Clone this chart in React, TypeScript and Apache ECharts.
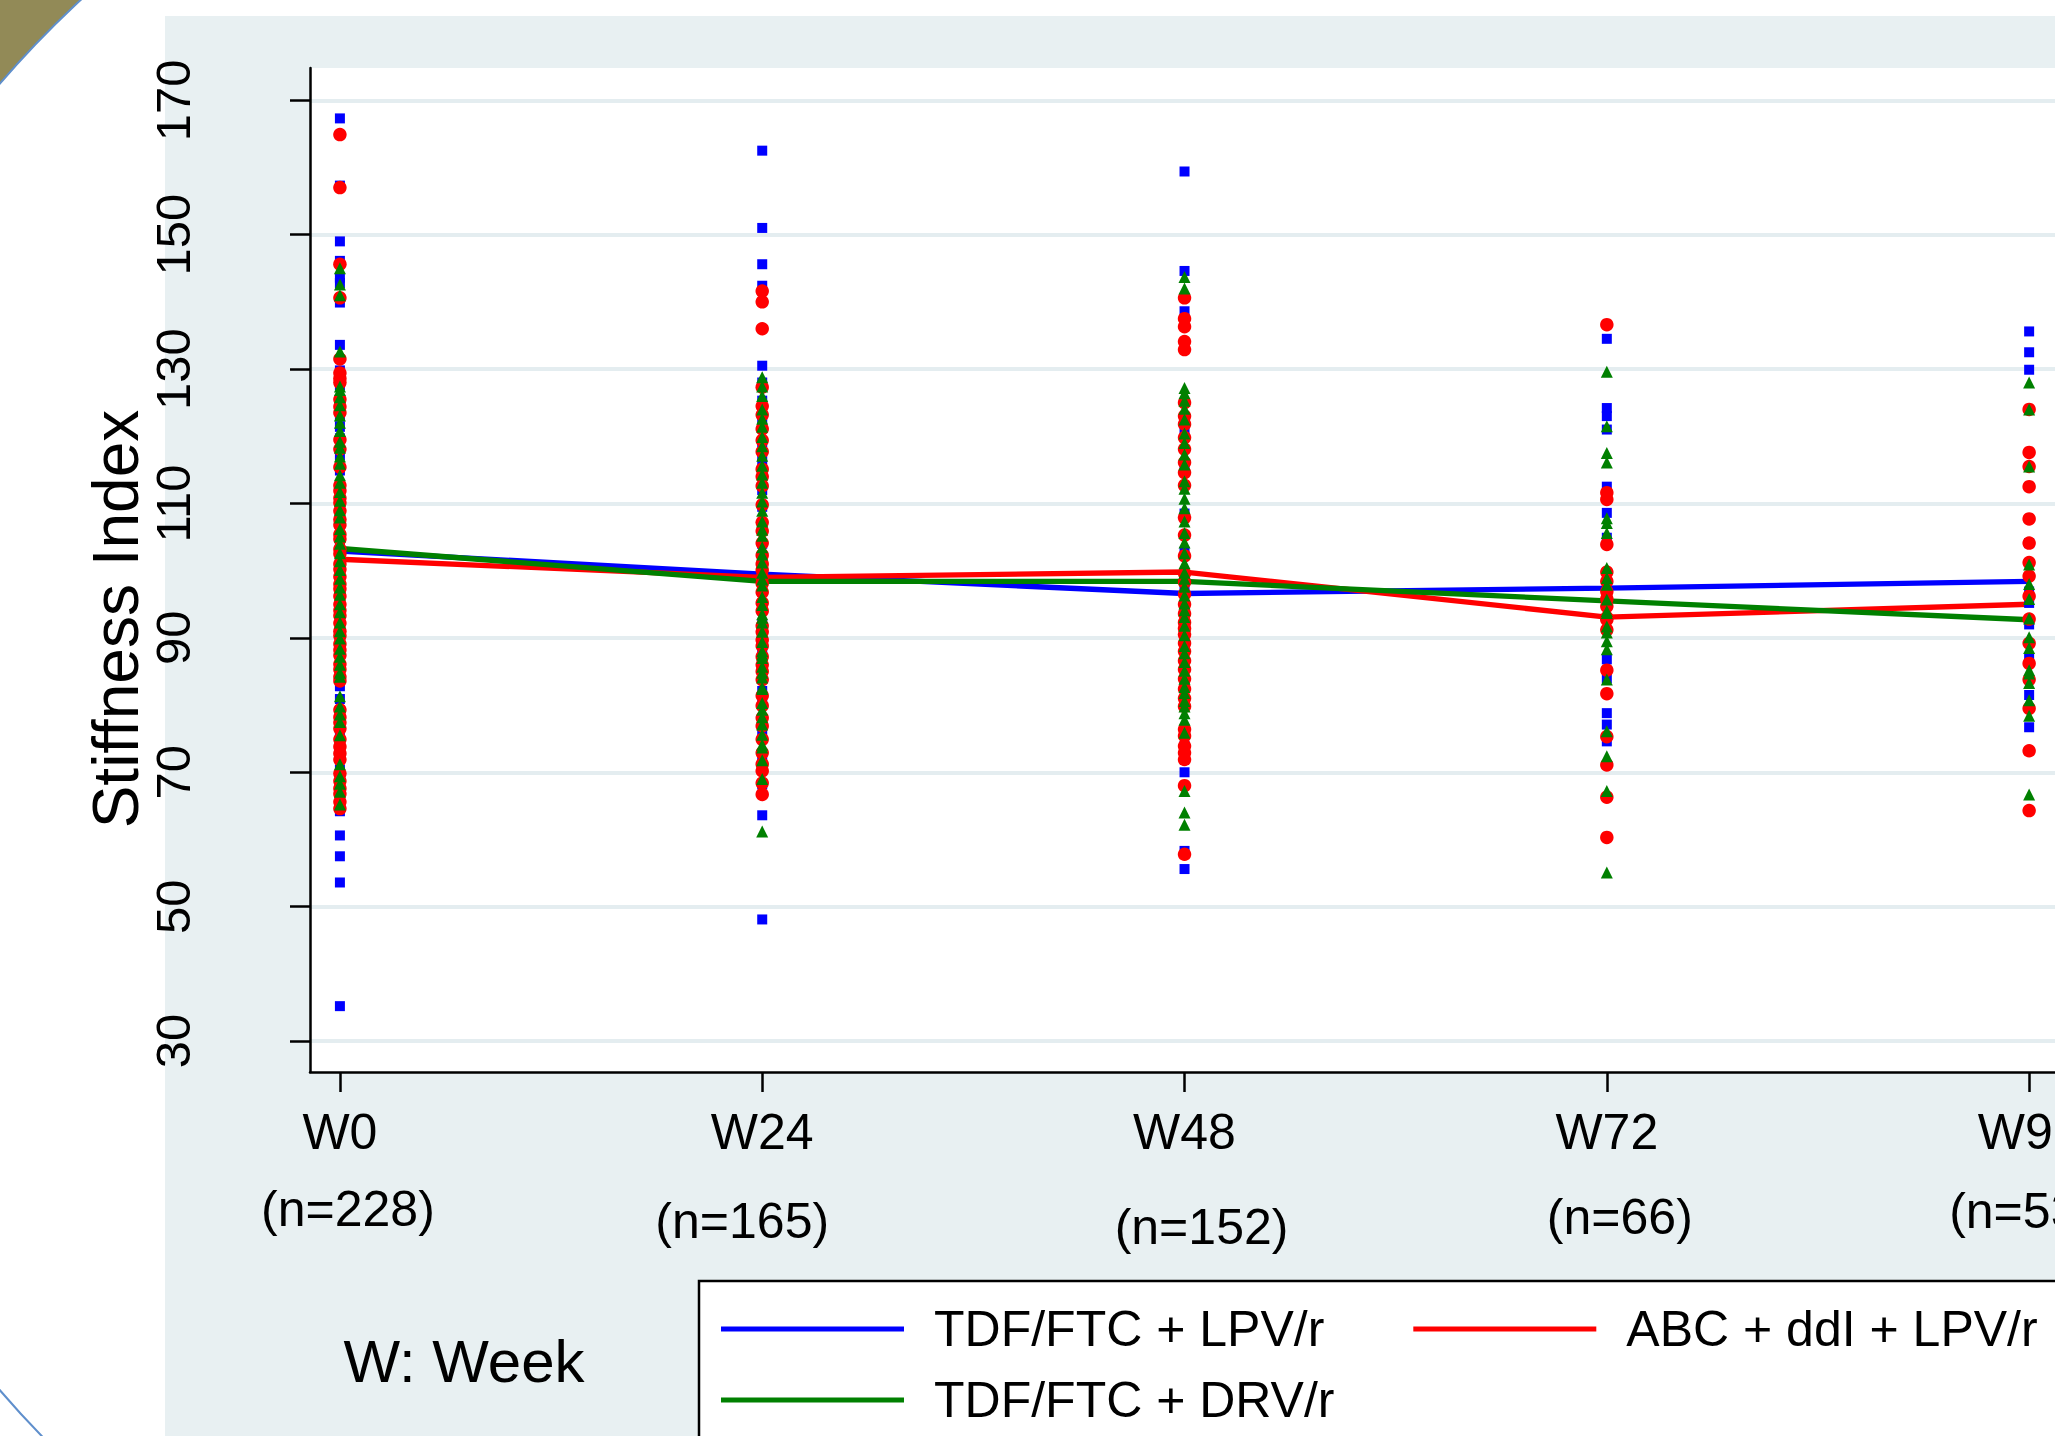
import React, { useEffect, useRef } from "react";
import * as echarts from "echarts";

// ---------- data ----------
const weeks = [0, 24, 48, 72, 96];
const weekLabels = ["W0", "W24", "W48", "W72", "W96"];
const nLabels = ["(n=228)", "(n=165)", "(n=152)", "(n=66)", "(n=53)"];
const yTicks = [30, 50, 70, 90, 110, 130, 150, 170];
const seriesNames = ["TDF/FTC + LPV/r", "ABC + ddI + LPV/r", "TDF/FTC + DRV/r"];

// group means (lines)
const meanTdfLpv = [102.9, 99.5, 96.6, 97.4, 98.4];
const meanAbcLpv = [101.7, 99.0, 99.8, 93.1, 95.0];
const meanTdfDrv = [103.3, 98.4, 98.4, 95.5, 92.7];

// individual values, TDF/FTC + LPV/r (blue)
const blueW0 = [167.3, 157.3, 149.0, 146.1, 143.6, 142.8, 139.9, 133.6, 129.8, 127.6, 125.2, 122.9, 121.4, 119.7, 117.2, 114.9, 112.6, 110.8, 108.3, 106.9, 104.2, 102.7, 100.3, 98.6, 96.1, 94.4, 92.8, 90.2, 88.9, 86.5, 84.1, 82.8, 80.9, 78.2, 75.6, 73.1, 70.4, 67.8, 64.2, 60.6, 57.5, 53.6, 35.2];
const blueW24 = [162.5, 151.0, 145.6, 142.4, 130.5, 128.0, 125.3, 122.5, 119.1, 116.4, 114.2, 112.0, 109.5, 106.3, 104.0, 101.6, 99.2, 96.9, 94.6, 92.0, 90.4, 88.3, 85.4, 82.1, 80.8, 75.9, 72.4, 68.2, 63.6, 48.1];
const blueW48 = [159.4, 144.6, 138.6, 121.0, 115.0, 108.5, 102.8, 97.5, 94.0, 89.5, 86.0, 83.0, 80.8, 73.9, 70.0, 58.3, 55.6];
const blueW72 = [134.5, 124.2, 123.0, 121.0, 112.5, 108.6, 104.9, 97.0, 86.8, 84.0, 78.8, 77.1, 74.6];
const blueW96 = [135.6, 132.5, 129.9, 104.1, 96.9, 95.2, 92.0, 86.9, 81.5, 76.7];

// individual values, ABC + ddI + LPV/r (red)
const redW0 = [164.9, 157.0, 145.6, 140.6, 131.5, 129.4, 128.6, 128.0, 125.5, 124.4, 123.5, 119.5, 118.1, 115.4, 112.7, 111.9, 110.8, 110.1, 108.9, 107.6, 106.8, 105.4, 104.7, 103.2, 102.5, 101.0, 100.2, 99.1, 98.0, 97.3, 96.2, 95.0, 94.1, 93.3, 92.2, 91.0, 90.3, 89.1, 88.2, 87.4, 86.1, 85.3, 84.2, 83.6, 79.3, 78.2, 77.4, 76.5, 74.9, 73.8, 72.8, 71.9, 69.8, 68.7, 67.6, 66.8, 65.6, 64.6];
const redW24 = [141.6, 140.0, 136.0, 127.3, 124.5, 123.2, 121.1, 119.4, 117.7, 115.1, 114.0, 112.6, 109.8, 107.2, 105.9, 104.1, 102.3, 101.0, 100.1, 99.0, 98.1, 96.8, 95.2, 94.0, 91.8, 90.9, 89.7, 88.8, 87.2, 86.0, 85.0, 83.8, 81.4, 79.9, 78.1, 76.9, 74.9, 72.9, 71.2, 70.2, 68.4, 66.7];
const redW48 = [140.6, 137.5, 136.3, 134.1, 132.9, 125.0, 123.0, 121.8, 119.8, 118.1, 116.1, 114.6, 112.7, 107.9, 105.3, 102.2, 99.6, 98.3, 96.5, 95.0, 93.6, 92.3, 91.4, 90.5, 89.2, 88.0, 86.6, 85.3, 83.9, 82.4, 81.0, 79.8, 76.4, 75.4, 73.9, 72.9, 71.9, 68.0, 57.8];
const redW72 = [136.6, 111.6, 110.6, 103.9, 99.8, 98.4, 96.9, 95.8, 94.7, 93.0, 92.7, 91.2, 85.2, 81.7, 75.3, 71.1, 66.3, 60.3];
const redW96 = [124.0, 117.6, 115.5, 112.5, 107.7, 104.1, 101.2, 99.2, 96.2, 92.8, 89.2, 86.2, 83.8, 79.5, 73.2, 64.3];

// individual values, TDF/FTC + DRV/r (green)
const greenW0 = [145.0, 142.6, 141.0, 132.6, 127.4, 126.9, 125.8, 124.6, 123.1, 122.0, 120.8, 119.2, 118.3, 117.0, 115.9, 114.2, 113.1, 111.7, 110.4, 109.0, 107.9, 106.2, 105.1, 104.0, 102.6, 101.4, 100.1, 98.8, 97.5, 96.4, 95.0, 93.8, 92.3, 91.0, 89.9, 88.4, 87.2, 86.0, 84.8, 84.2, 81.3, 79.8, 78.6, 77.5, 75.5, 71.2, 69.4, 68.3, 67.1, 65.2];
const greenW24 = [128.8, 127.4, 126.0, 124.0, 122.6, 121.4, 119.9, 118.5, 117.1, 115.6, 114.3, 113.1, 111.6, 110.3, 108.9, 107.3, 106.1, 105.2, 103.5, 102.4, 101.2, 99.7, 98.7, 97.8, 96.1, 94.9, 93.5, 93.0, 92.3, 90.9, 89.4, 88.0, 87.5, 87.0, 85.7, 84.8, 84.1, 82.6, 82.4, 80.3, 79.3, 78.2, 77.1, 75.6, 74.1, 73.7, 71.8, 69.0, 61.2];
const greenW48 = [143.7, 142.0, 127.2, 126.4, 125.3, 124.1, 122.5, 120.4, 119.0, 117.3, 115.8, 113.3, 112.2, 110.7, 109.3, 107.3, 105.6, 104.2, 102.6, 101.1, 99.7, 98.8, 97.6, 96.3, 95.1, 94.1, 93.1, 91.8, 90.4, 88.8, 87.7, 86.4, 85.1, 83.9, 82.7, 81.8, 80.6, 79.8, 78.8, 77.8, 75.9, 67.2, 64.0, 62.2];
const greenW72 = [129.6, 121.5, 117.5, 116.1, 107.8, 107.1, 105.6, 100.4, 98.9, 97.9, 95.7, 94.0, 93.7, 91.7, 90.8, 89.5, 88.3, 83.8, 76.1, 72.4, 67.2, 55.1];
const greenW96 = [128.0, 124.0, 115.5, 100.9, 98.0, 95.8, 92.9, 90.1, 88.5, 85.2, 84.7, 83.3, 80.7, 78.4, 66.7];

const blueByWeek = [blueW0, blueW24, blueW48, blueW72, blueW96];
const redByWeek = [redW0, redW24, redW48, redW72, redW96];
const greenByWeek = [greenW0, greenW24, greenW48, greenW72, greenW96];

// ---------- layout / style ----------
const W = 2055;
const H = 1436;
const FONT = "'Liberation Sans', Arial, Helvetica, sans-serif";
const BLUE = "#0000ff";
const RED = "#ff0000";
const GREEN = "#008000";
const PANEL = "#e8f0f2";
const GRIDLINE = "#e4edf0";
const GRID_LEFT = 310;
const GRID_TOP = 68;
const GRID_BOTTOM_Y = 1072;
const nOffsetX = [8, -20, 17, 13, -7];
const nLabelY = [1209, 1221, 1227, 1217, 1211];

const toPoints = (byWeek: number[][]) =>
  byWeek.flatMap((vals, i) => vals.map((v) => [weeks[i], v]));
const toLine = (means: number[]) => means.map((m, i) => [weeks[i], m]);

export default function App() {
  const ref = useRef<HTMLDivElement>(null);

  useEffect(() => {
    const el = ref.current;
    if (!el) return;
    const chart = echarts.init(el, null, { renderer: "svg" });

    const baseGraphics: any[] = [
      { id: "olive", type: "rect", shape: { x: 0, y: 0, width: 320, height: 320 }, style: { fill: "#928a57" }, silent: true },
      { id: "circle", type: "circle", shape: { cx: 761, cy: 737, r: 1003 }, style: { fill: "#ffffff", stroke: "#5f8fcc", lineWidth: 2 }, silent: true },
      { id: "topstrip", type: "rect", shape: { x: 165, y: 0, width: 1900, height: 17 }, style: { fill: "#ffffff" }, silent: true },
      { id: "panel", type: "rect", shape: { x: 165, y: 16, width: 2000, height: 1500 }, style: { fill: PANEL }, silent: true },
      { id: "plotbg", type: "rect", shape: { x: GRID_LEFT, y: GRID_TOP, width: 1800, height: GRID_BOTTOM_Y - GRID_TOP }, style: { fill: "#ffffff" }, silent: true },
      { id: "legendbox", type: "rect", shape: { x: 699, y: 1281, width: 1500, height: 300 }, style: { fill: "#ffffff", stroke: "#000000", lineWidth: 2.5 }, silent: true },
      {
        id: "ytitle", type: "text", x: 116, y: 619, rotation: Math.PI / 2,
        style: { text: "Stiffness Index", fontSize: 64, fontFamily: FONT, fill: "#000", align: "center", verticalAlign: "middle" },
        silent: true,
      },
      {
        id: "weeknote", type: "text", x: 464, y: 1361,
        style: { text: "W: Week", fontSize: 60, fontFamily: FONT, fill: "#000", align: "center", verticalAlign: "middle" },
        silent: true,
      },
    ];

    const legendCommon = {
      icon: "rect",
      itemWidth: 183,
      itemHeight: 5,
      itemGap: 89,
      padding: 0,
      selectedMode: false,
      orient: "horizontal",
      textStyle: { fontSize: 50, lineHeight: 50, color: "#000", fontFamily: FONT, padding: [0, 0, 0, 25] },
    };

    const option: any = {
      animation: false,
      backgroundColor: "#ffffff",
      graphic: baseGraphics,
      legend: [
        { ...legendCommon, data: [seriesNames[0], seriesNames[1]], left: 721, top: 1304 },
        { ...legendCommon, data: [seriesNames[2]], left: 721, top: 1375 },
      ],
      grid: {
        left: GRID_LEFT,
        top: GRID_TOP,
        right: 0,
        bottom: H - GRID_BOTTOM_Y,
        containLabel: false,
        outerBoundsMode: "none",
        show: false,
      },
      xAxis: {
        type: "value",
        min: -1.7,
        max: 97.47,
        z: 5,
        axisLine: { show: true, onZero: false, lineStyle: { color: "#000", width: 2.5 } },
        axisTick: { show: true, length: 20, customValues: weeks, lineStyle: { color: "#000", width: 2.5 } },
        axisLabel: {
          customValues: weeks,
          formatter: (v: number) => weekLabels[weeks.indexOf(v)] ?? "",
          fontSize: 50,
          fontFamily: FONT,
          color: "#000",
          margin: 35,
        },
        splitLine: { show: false },
      },
      yAxis: {
        type: "value",
        min: 25.4,
        max: 174.8,
        z: 5,
        axisLine: { show: true, onZero: false, lineStyle: { color: "#000", width: 2.5 } },
        axisTick: { show: true, length: 20, customValues: yTicks, lineStyle: { color: "#000", width: 2.5 } },
        axisLabel: {
          customValues: yTicks,
          rotate: 90,
          fontSize: 49,
          fontFamily: FONT,
          color: "#000",
          margin: 113,
        },
        splitLine: { show: false },
      },
      series: [
        {
          name: seriesNames[0],
          type: "line",
          data: toLine(meanTdfLpv),
          symbol: "none",
          lineStyle: { color: BLUE, width: 5.3 },
          itemStyle: { color: BLUE },
          silent: true,
          z: 2,
          markLine: {
            silent: true,
            z: 1,
            symbol: ["none", "none"],
            label: { show: false },
            lineStyle: { color: GRIDLINE, width: 4, type: "solid" },
            emphasis: { disabled: true },
            data: yTicks.map((v) => ({ yAxis: v })),
          },
        },
        {
          name: seriesNames[1],
          type: "line",
          data: toLine(meanAbcLpv),
          symbol: "none",
          lineStyle: { color: RED, width: 5.3 },
          itemStyle: { color: RED },
          silent: true,
          z: 2,
        },
        {
          name: seriesNames[2],
          type: "line",
          data: toLine(meanTdfDrv),
          symbol: "none",
          lineStyle: { color: GREEN, width: 5.3 },
          itemStyle: { color: GREEN },
          silent: true,
          z: 2,
        },
        {
          name: "pts-blue",
          type: "scatter",
          data: toPoints(blueByWeek),
          symbol: "rect",
          symbolSize: 10,
          itemStyle: { color: BLUE, opacity: 1 },
          silent: true,
          z: 3,
        },
        {
          name: "pts-red",
          type: "scatter",
          data: toPoints(redByWeek),
          symbol: "circle",
          symbolSize: 13.5,
          itemStyle: { color: RED, opacity: 1 },
          silent: true,
          z: 3,
        },
        {
          name: "pts-green",
          type: "scatter",
          data: toPoints(greenByWeek),
          symbol: "triangle",
          symbolSize: 12,
          itemStyle: { color: GREEN, opacity: 1 },
          silent: true,
          z: 3,
        },
      ],
    };

    chart.setOption(option);

    const nGraphics = weeks.map((wk, i) => {
      const px = chart.convertToPixel({ xAxisIndex: 0 }, wk) as number;
      return {
        id: "n" + i,
        type: "text",
        x: px + nOffsetX[i],
        y: nLabelY[i],
        style: { text: nLabels[i], fontSize: 50, fontFamily: FONT, fill: "#000", align: "center", verticalAlign: "middle" },
        silent: true,
      };
    });
    chart.setOption({ graphic: [...baseGraphics, ...nGraphics] });

    return () => chart.dispose();
  }, []);

  return (
    <div
      ref={ref}
      style={{ position: "fixed", left: 0, top: 0, width: W, height: H, background: "#fff", overflow: "hidden" }}
    />
  );
}
